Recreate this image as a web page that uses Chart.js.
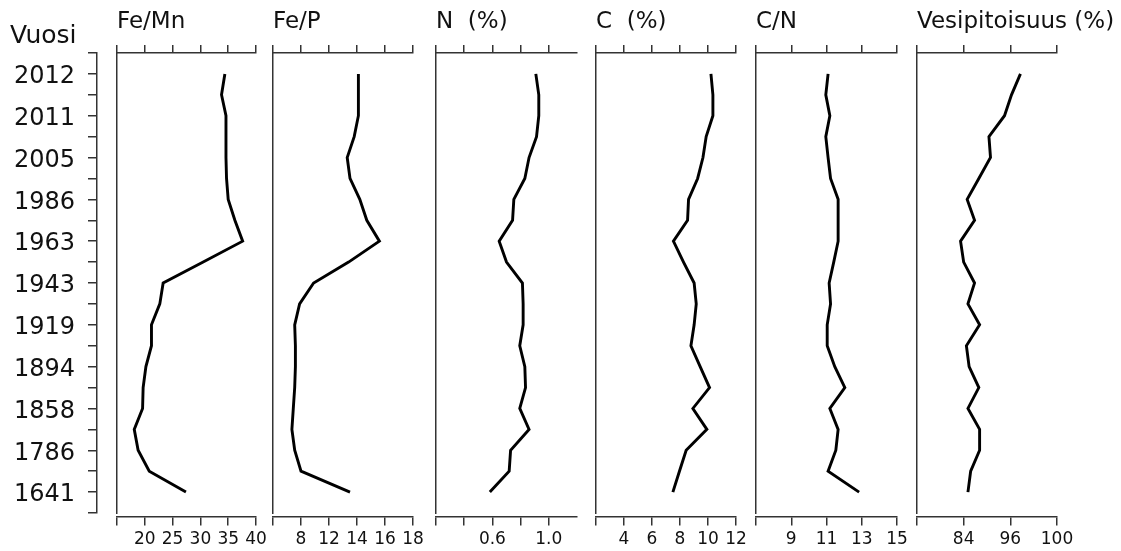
<!DOCTYPE html>
<html><head><meta charset="utf-8">
<script src="https://cdn.jsdelivr.net/npm/chart.js@4.4.1/dist/chart.umd.min.js"></script>
<style>
html,body{margin:0;padding:0;background:#fff;}
#wrap{position:relative;width:1121px;height:551px;overflow:hidden;background:#fff;}
#wrap canvas{position:absolute;top:0;}
</style></head><body><div id="wrap"></div>
<script>
// ---- data ----
const yearLabels = ['2012','2011','2005','1986','1963','1943','1919','1894','1858','1786','1641'];
const samplePos = [1,2,3,4,5,6,7,8,9,10,11,12,13,14,15,16,17,18,19,20,21];
const feMn  = [34.4, 33.8, 34.6, 34.6, 34.6, 34.7, 35.0, 36.2, 37.6, 30.5, 23.3, 22.7, 21.2, 21.2, 20.2, 19.7, 19.6, 18.1, 18.8, 20.8, 27.4];
const feP   = [14.1, 14.1, 14.1, 13.8, 13.3, 13.5, 14.2, 14.7, 15.6, 13.4, 10.9, 9.9, 9.55, 9.6, 9.6, 9.55, 9.45, 9.35, 9.55, 10.0, 13.5];
const nPct  = [0.908, 0.929, 0.929, 0.913, 0.860, 0.830, 0.752, 0.743, 0.648, 0.700, 0.813, 0.818, 0.818, 0.794, 0.830, 0.835, 0.794, 0.860, 0.729, 0.719, 0.582];
const cPct  = [10.21, 10.35, 10.35, 9.87, 9.64, 9.26, 8.61, 8.54, 7.53, 8.25, 9.01, 9.16, 9.01, 8.78, 9.44, 10.11, 8.92, 9.92, 8.44, 7.96, 7.49];
const cnRatio = [11.09, 10.96, 11.19, 10.96, 11.09, 11.23, 11.66, 11.66, 11.66, 11.41, 11.15, 11.23, 11.04, 11.04, 11.47, 12.04, 11.19, 11.66, 11.53, 11.09, 12.85];
const water = [98.6, 96.3, 94.5, 90.5, 90.9, 87.9, 84.9, 86.8, 83.2, 84.0, 86.8, 85.1, 88.1, 84.7, 85.4, 87.9, 85.1, 88.1, 88.1, 85.8, 85.1];

// tick values and tick labels of each panel
const feMnTicks = [15, 20, 25, 30, 35, 40];
const feMnTickLabels = ['', '20', '25', '30', '35', '40'];
const fePTicks = [8, 10, 12, 14, 16, 18];
const fePTickLabels = ['', '8', '12', '14', '16', '18'];
const nTicks = [0.2, 0.4, 0.6, 0.8, 1.0];
const nTickLabels = ['', '', '0.6', '', '1.0'];
const cTicks = [2, 4, 6, 8, 10, 12];
const cTickLabels = ['', '4', '6', '8', '10', '12'];
const cnTicks = [7, 9, 11, 13, 15];
const cnTickLabels = ['', '9', '11', '13', '15'];
const waterTicks = [72, 84, 96, 108];
const waterTickLabels = ['', '84', '96', '100'];

// ---- layout / style ----
const FONT = 'DejaVu Sans';
const AX = '#333';
const TXT = '#111';
const H = 551;
const wrap = document.getElementById('wrap');

const panels = [
  {title:'Fe/Mn', values:feMn, ticks:feMnTicks, labels:feMnTickLabels, min:15, max:40, left:117, right:256},
  {title:'Fe/P', values:feP, ticks:fePTicks, labels:fePTickLabels, min:8, max:18, left:273, right:413},
  {title:'N  (%)', values:nPct, ticks:nTicks, labels:nTickLabels, min:0.2, max:1.2, left:436, right:577},
  {title:'C  (%)', values:cPct, ticks:cTicks, labels:cTickLabels, min:2, max:12, left:596, right:736},
  {title:'C/N', values:cnRatio, ticks:cnTicks, labels:cnTickLabels, min:7, max:15, left:756, right:897},
  {title:'Vesipitoisuus (%)', values:water, ticks:waterTicks, labels:waterTickLabels, min:72, max:108, left:917, right:1057}
];

function addCanvas(left, width) {
  const cv = document.createElement('canvas');
  cv.width = width; cv.height = H;
  cv.style.left = left + 'px';
  wrap.appendChild(cv);
  return cv;
}

const gridOpts = {display:true, drawOnChartArea:false, drawTicks:true, tickLength:8, color:AX, lineWidth:1.5};
const borderOpts = {display:true, color:AX, width:1.5};

// year axis
(function(){
  const padL = 10;
  const cv = addCanvas(0, 110);
  new Chart(cv, {
    type:'line',
    data:{datasets:[]},
    options:{
      responsive:false, animation:false, events:[],
      layout:{padding:{left:padL, right:8, top:0, bottom:38}},
      plugins:{
        legend:{display:false}, tooltip:{enabled:false},
        title:{display:true, text:'Vuosi', align:'start', color:TXT,
               font:{family:FONT, size:25, weight:'normal'}, padding:{top:21, bottom:2}}
      },
      scales:{
        x:{display:false},
        y:{type:'linear', position:'left', min:0, max:22, reverse:true,
           afterBuildTicks:s=>{ const t=[]; for(let i=0;i<=22;i++) t.push({value:i}); s.ticks=t; },
           ticks:{autoSkip:false, padding:13, labelOffset:3, color:TXT, font:{family:FONT, size:24},
                  callback:(v,i)=> (i%2===1 ? yearLabels[(i-1)/2] : '')},
           grid:{display:true, drawOnChartArea:false, drawTicks:true, tickLength:9, color:AX, lineWidth:1.5},
           border:borderOpts,
           afterFit:s=>{ s.width = 97 - padL; }}
      }
    }
  });
})();

// profile panels
panels.forEach(p => {
  const padL = 6, padR = 64;
  const cv = addCanvas(p.left - padL, (p.right - p.left) + padL + padR);
  const setTicks = s => { s.ticks = p.ticks.map(v => ({value:v})); };
  new Chart(cv, {
    type:'line',
    data:{datasets:[{
      data: samplePos.map((pos, i) => ({x:p.values[i], y:pos})),
      borderColor:'#000', borderWidth:2.9, pointRadius:0, tension:0, fill:false,
      xAxisID:'x', yAxisID:'y'
    }]},
    options:{
      responsive:false, animation:false, events:[],
      layout:{padding:{left:padL, right:0, top:0, bottom:38}},
      plugins:{
        legend:{display:false}, tooltip:{enabled:false},
        title:{display:true, text:p.title, align:'start', color:TXT,
               font:{family:FONT, size:23, weight:'normal'}, padding:{top:8, bottom:0}}
      },
      scales:{
        y:{type:'linear', position:'left', min:0, max:22, reverse:true,
           ticks:{display:false}, grid:{display:false}, border:borderOpts,
           afterFit:s=>{ s.width = 0; }},
        yR:{type:'linear', position:'right', display:true, min:0, max:1,
            ticks:{display:false}, grid:{display:false}, border:{display:false},
            afterFit:s=>{ s.width = padR; }},
        x:{type:'linear', min:p.min, max:p.max, position:{y:22.19},
           afterBuildTicks:setTicks,
           ticks:{autoSkip:false, maxRotation:0, minRotation:0, padding:4, color:TXT,
                  font:{family:FONT, size:17}, callback:(v,i)=>p.labels[i]},
           grid:gridOpts, border:borderOpts},
        x2:{type:'linear', min:p.min, max:p.max, position:'top',
            afterBuildTicks:setTicks,
            ticks:{display:false},
            grid:gridOpts, border:borderOpts,
            afterFit:s=>{ s.height = 17.4; }}
      }
    }
  });
});
</script></body></html>
